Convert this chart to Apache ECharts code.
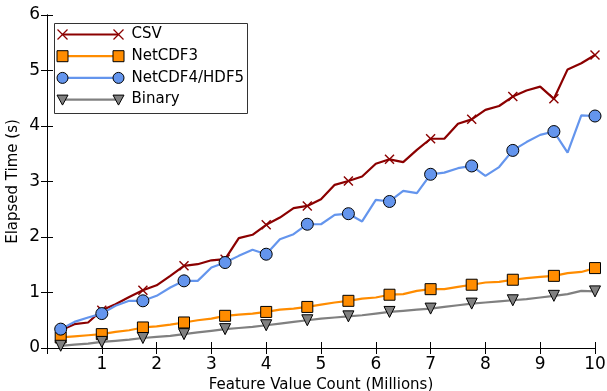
<!DOCTYPE html>
<html>
<head>
<meta charset="utf-8">
<script src="https://cdn.jsdelivr.net/npm/echarts@6/dist/echarts.min.js"></script>
<style>
  html, body { margin: 0; padding: 0; background: #fff; }
  #chart { width: 607px; height: 391px; }
</style>
</head>
<body>
<div id="chart"></div>
<script>
// feature value count (millions)
var featureCounts = [0.25, 0.5, 0.75, 1.0, 1.25, 1.5, 1.75, 2.0, 2.25, 2.5,
    2.75, 3.0, 3.25, 3.5, 3.75, 4.0, 4.25, 4.5, 4.75, 5.0,
    5.25, 5.5, 5.75, 6.0, 6.25, 6.5, 6.75, 7.0, 7.25, 7.5,
    7.75, 8.0, 8.25, 8.5, 8.75, 9.0, 9.25, 9.5, 9.75, 10.0];

var csvTimes = [0.32, 0.43, 0.46, 0.68, 0.79, 0.92, 1.04, 1.13, 1.30, 1.48,
    1.51, 1.58, 1.60, 1.98, 2.04, 2.22, 2.35, 2.52, 2.56, 2.68,
    2.94, 3.01, 3.09, 3.32, 3.40, 3.35, 3.57, 3.77, 3.77, 4.04,
    4.12, 4.29, 4.36, 4.53, 4.64, 4.71, 4.49, 5.02, 5.13, 5.28];

var netcdf3Times = [0.19, 0.21, 0.23, 0.25, 0.29, 0.32, 0.37, 0.39, 0.42, 0.46,
    0.50, 0.53, 0.58, 0.60, 0.62, 0.65, 0.69, 0.71, 0.74, 0.78,
    0.82, 0.85, 0.89, 0.91, 0.96, 0.97, 1.03, 1.06, 1.06, 1.10,
    1.14, 1.18, 1.19, 1.23, 1.26, 1.28, 1.30, 1.35, 1.37, 1.44];

var hdf5Times = [0.34, 0.47, 0.55, 0.62, 0.76, 0.85, 0.85, 0.94, 1.09, 1.21,
    1.21, 1.45, 1.54, 1.66, 1.77, 1.69, 1.96, 2.05, 2.23, 2.23,
    2.40, 2.42, 2.28, 2.67, 2.64, 2.83, 2.79, 3.13, 3.16, 3.24,
    3.28, 3.10, 3.26, 3.56, 3.71, 3.84, 3.90, 3.52, 4.19, 4.18];

var binaryTimes = [0.04, 0.06, 0.08, 0.11, 0.13, 0.15, 0.18, 0.20, 0.22, 0.25,
    0.28, 0.31, 0.34, 0.36, 0.38, 0.41, 0.44, 0.47, 0.50, 0.53,
    0.55, 0.57, 0.59, 0.62, 0.65, 0.67, 0.69, 0.71, 0.74, 0.77,
    0.80, 0.82, 0.84, 0.86, 0.88, 0.91, 0.94, 0.97, 1.03, 1.02];

var seriesNames = ['CSV', 'NetCDF3', 'NetCDF4/HDF5', 'Binary'];
var seriesColors = ['#8b0000', '#ff8c00', '#6495ed', '#808080'];

var FONT = 'DejaVu Sans';
var crossPath = 'path://M0,1 L1,0 L5,4 L9,0 L10,1 L6,5 L10,9 L9,10 L5,6 L1,10 L0,9 L4,5 Z';

function pairs(ys) {
    var out = [];
    for (var i = 0; i < ys.length; i++) out.push([featureCounts[i], ys[i]]);
    return out;
}

// marker only on every third point, like markevery=3
function every3(size) {
    return function (v, p) { return p.dataIndex % 3 === 0 ? size : 0; };
}

function makeSeries(name, ys, color, symbol, size, border, rotate) {
    return {
        name: name,
        type: 'line',
        data: pairs(ys),
        symbol: symbol,
        symbolSize: every3(size),
        symbolRotate: rotate || 0,
        showAllSymbol: true,
        lineStyle: { color: color, width: 2.2 },
        itemStyle: {
            color: color,
            borderColor: border ? '#000' : color,
            borderWidth: border ? 1 : 0
        },
        emphasis: { disabled: true }
    };
}

// matplotlib style legend: line sample with a marker at each end
function legendMarker(kind, x, y, color) {
    if (kind === 'cross') {
        return { type: 'group', children: [
            { type: 'line', shape: { x1: x - 5, y1: y - 5, x2: x + 5, y2: y + 5 }, style: { stroke: color, lineWidth: 1.2 } },
            { type: 'line', shape: { x1: x - 5, y1: y + 5, x2: x + 5, y2: y - 5 }, style: { stroke: color, lineWidth: 1.2 } }
        ] };
    }
    if (kind === 'rect') {
        return { type: 'rect', shape: { x: x - 5.5, y: y - 5.5, width: 11, height: 11 }, style: { fill: color, stroke: '#000', lineWidth: 1 } };
    }
    if (kind === 'circle') {
        return { type: 'circle', shape: { cx: x, cy: y, r: 5.5 }, style: { fill: color, stroke: '#000', lineWidth: 1 } };
    }
    return { type: 'polygon', shape: { points: [[x - 5.5, y - 4.5], [x + 5.5, y - 4.5], [x, y + 5.5]] }, style: { fill: color, stroke: '#000', lineWidth: 1 } };
}

function buildLegend() {
    var kinds = ['cross', 'rect', 'circle', 'tri'];
    var children = [{
        type: 'rect',
        shape: { x: 0, y: 0, width: 193, height: 90 },
        style: { fill: '#fff', stroke: '#333', lineWidth: 1 }
    }];
    for (var i = 0; i < seriesNames.length; i++) {
        var cy = 11 + i * 21.7;
        children.push({ type: 'line', shape: { x1: 8, y1: cy, x2: 64, y2: cy }, style: { stroke: seriesColors[i], lineWidth: 2.2 } });
        children.push(legendMarker(kinds[i], 8, cy, seriesColors[i]));
        children.push(legendMarker(kinds[i], 64, cy, seriesColors[i]));
        children.push({
            type: 'text', x: 77, y: cy,
            style: { text: seriesNames[i], font: '15px "DejaVu Sans"', fill: '#000', verticalAlign: 'middle' }
        });
    }
    return [{ type: 'group', left: 54, top: 23, z: 100, children: children }];
}

var chart = echarts.init(document.getElementById('chart'));

var option = {
    animation: false,
    backgroundColor: '#fff',
    grid: { left: 47, right: 12, top: 15, bottom: 43, outerBoundsMode: 'none' },
    graphic: buildLegend(),
    xAxis: [{
        type: 'value',
        min: 0,
        max: 10,
        interval: 1,
        name: 'Feature Value Count (Millions)',
        nameLocation: 'middle',
        nameGap: 28,
        nameTextStyle: { fontFamily: FONT, fontSize: 15, color: '#000' },
        axisLine: { lineStyle: { color: '#000', width: 1 } },
        axisTick: { inside: true, length: 6, lineStyle: { color: '#000' } },
        axisLabel: {
            fontFamily: FONT, fontSize: 17, color: '#000', margin: 8,
            formatter: function (v) { return v === 0 ? '' : v; }
        },
        splitLine: { show: false }
    }, {
        type: 'value',
        position: 'top',
        min: 0,
        max: 10,
        interval: 1,
        axisLine: { lineStyle: { color: '#000', width: 1 } },
        axisTick: { inside: true, length: 6, lineStyle: { color: '#000' } },
        axisLabel: { show: false },
        splitLine: { show: false }
    }],
    yAxis: [{
        type: 'value',
        min: 0,
        max: 6,
        interval: 1,
        name: 'Elapsed Time (s)',
        nameLocation: 'middle',
        nameGap: 26,
        nameMoveOverlap: false,
        nameTextStyle: { fontFamily: FONT, fontSize: 15, color: '#000' },
        axisLine: { show: true, lineStyle: { color: '#000', width: 1 } },
        axisTick: { show: true, inside: true, length: 6, lineStyle: { color: '#000' } },
        axisLabel: { fontFamily: FONT, fontSize: 17, color: '#000', margin: 7 },
        splitLine: { show: false }
    }, {
        type: 'value',
        position: 'right',
        min: 0,
        max: 6,
        interval: 1,
        axisLine: { show: true, lineStyle: { color: '#000', width: 1 } },
        axisTick: { show: true, inside: true, length: 6, lineStyle: { color: '#000' } },
        axisLabel: { show: false },
        splitLine: { show: false }
    }],
    series: [
        makeSeries('CSV', csvTimes, seriesColors[0], crossPath, 10, false),
        makeSeries('NetCDF3', netcdf3Times, seriesColors[1], 'rect', 11, true),
        makeSeries('NetCDF4/HDF5', hdf5Times, seriesColors[2], 'circle', 12, true),
        makeSeries('Binary', binaryTimes, seriesColors[3], 'triangle', 11, true, 180)
    ]
};

chart.setOption(option);
</script>
</body>
</html>
